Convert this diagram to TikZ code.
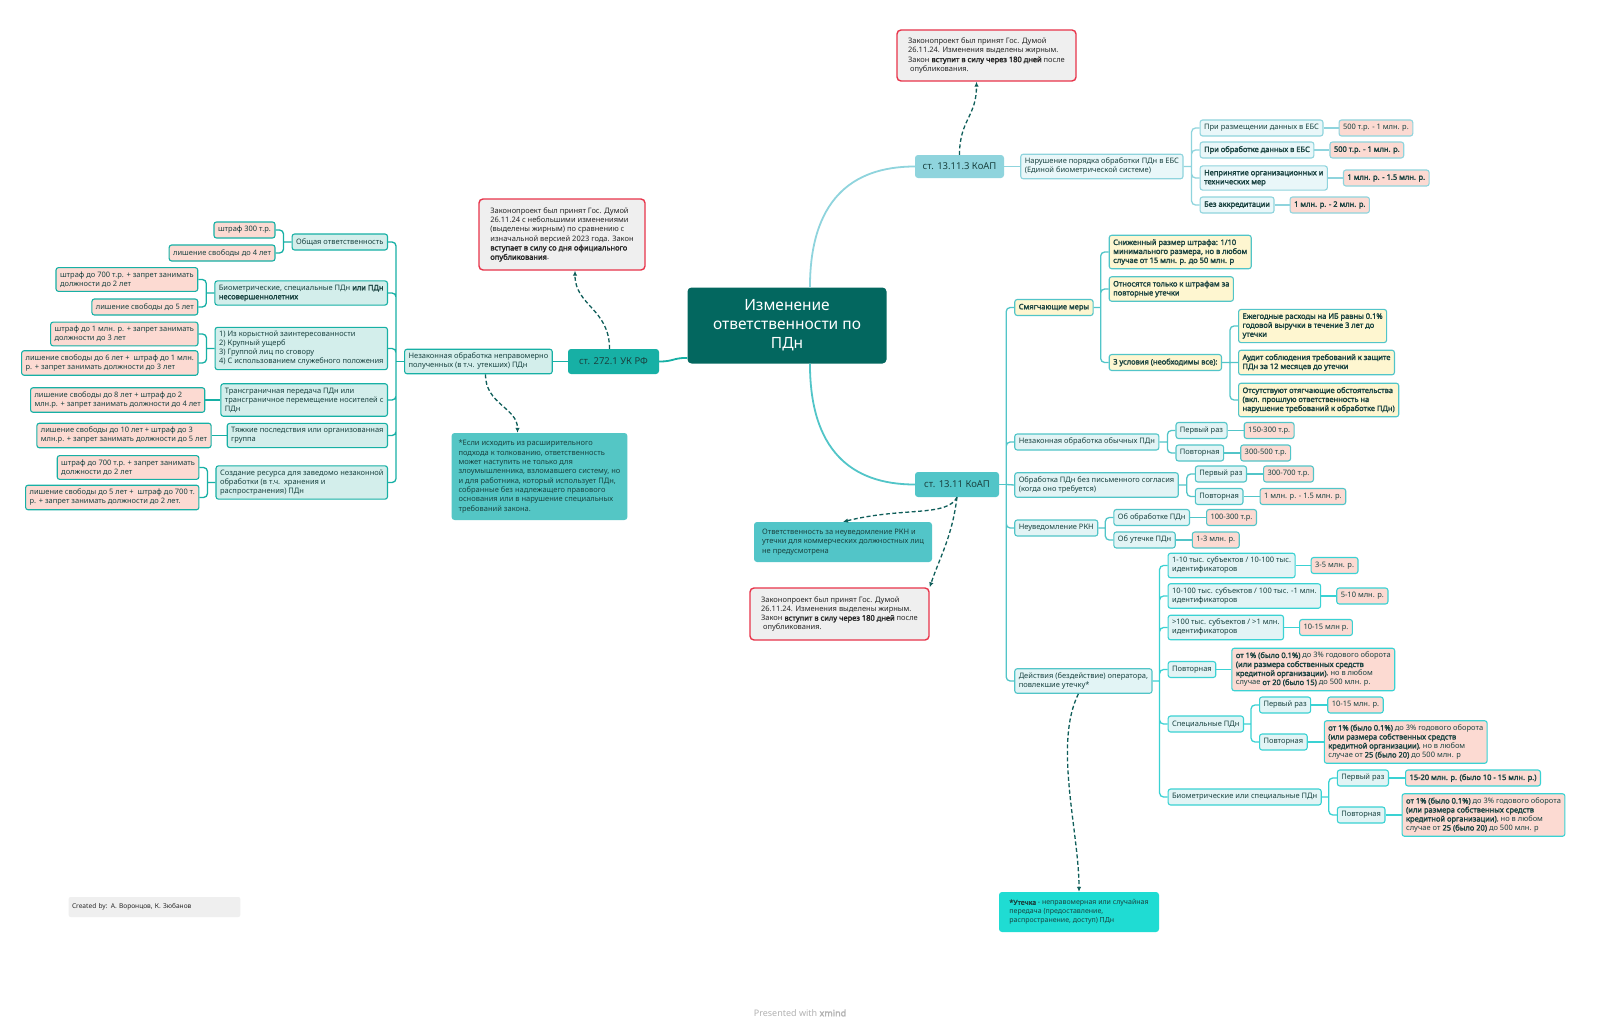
\documentclass[tikz,border=0pt]{standalone}
\usepackage{fontspec}
\setmainfont{Noto Sans}[BoldFont={Noto Sans}, BoldFeatures={FakeBold=2.2}]
\usepackage{xcolor}
\usepackage{tikz}
\usetikzlibrary{arrows.meta, positioning}

\definecolor{rootc}{HTML}{03675F}
\definecolor{ink}{HTML}{1A4341}
\definecolor{lline}{HTML}{17B0A5}
\definecolor{tline}{HTML}{8FD4DD}
\definecolor{rline}{HTML}{52C5C8}
\definecolor{sline}{HTML}{3AD2D3}
\definecolor{lfill}{HTML}{D3EEEB}
\definecolor{tfill}{HTML}{E9F7F9}
\definecolor{rfill}{HTML}{E2F4F5}
\definecolor{pinkf}{HTML}{FCDAD2}
\definecolor{yelf}{HTML}{FEF6D0}
\definecolor{memored}{HTML}{E8344A}
\definecolor{memof}{HTML}{EFEFEF}
\definecolor{hintc}{HTML}{54C6C5}
\definecolor{leakc}{HTML}{1FDCD3}
\definecolor{arc}{HTML}{0F5E5A}

\begin{document}
\begin{tikzpicture}[
  x=1pt, y=-1pt,
  font=\fontsize{7.5}{9}\selectfont,
  box/.style={rounded corners=2.5pt, line width=1.1pt, align=left, text=ink,
              inner xsep=4pt, inner ysep=4pt, minimum height=16pt},
  lt/.style={box, draw=lline, fill=lfill},
  lp/.style={box, draw=lline, fill=pinkf},
  tt/.style={box, draw=tline, fill=tfill},
  tp/.style={box, draw=tline, fill=pinkf},
  rt/.style={box, draw=rline, fill=rfill},
  rp/.style={box, draw=rline, fill=pinkf},
  ry/.style={box, draw=rline, fill=yelf},
  st/.style={box, draw=sline, fill=rfill},
  sp/.style={box, draw=sline, fill=pinkf},
  bb/.style={font=\fontsize{7.5}{9}\selectfont\bfseries},
  root/.style={fill=rootc, text=white, rounded corners=4pt, align=center,
               minimum width=199pt, minimum height=76pt,
               font=\fontsize{15.5}{19}\selectfont},
  art/.style={rounded corners=3pt, text=ink, inner sep=0pt,
              font=\fontsize{9.5}{11}\selectfont},
  memo/.style={draw=memored, fill=memof, line width=1.4pt, rounded corners=4pt,
               align=left, text=black!85, inner xsep=7pt, inner ysep=4pt,
               font=\fontsize{7.5}{9.3}\selectfont},
  hint/.style={rounded corners=3pt, align=left, text=ink, inner xsep=7pt,
               inner ysep=4pt, font=\fontsize{7.5}{9.3}\selectfont},
  br/.style={line width=1.3pt, rounded corners=4pt},
  ar/.style={draw=arc, line width=1.3pt, dash pattern=on 4pt off 2.5pt,
             -{Latex[length=5pt, width=4.5pt]}}
]
\fill[white] (0,0) rectangle (1600,1030);
\useasboundingbox (0,0) rectangle (1600,1030);

% root and articles
\node[root] (root) at (787,325.5) {Изменение\\ответственности по\\ПДн};
\node[art, fill=tline, minimum width=89pt, minimum height=23pt] (a1) at (959.5,166.5) {ст. 13.11.3 КоАП};
\node[art, fill=rline, minimum width=84pt, minimum height=25pt] (a2) at (957,484.5) {ст. 13.11 КоАП};
\node[art, fill=lline, minimum width=91pt, minimum height=25pt] (a3) at (613.5,361.5) {ст. 272.1 УК РФ};
\draw[line width=1.8pt, tline] (root.59) .. controls +(0,-85) and +(-65,0) .. (a1.west);
\draw[line width=1.8pt, rline] (root.-59) .. controls +(0,85) and +(-65,0) .. (a2.west);
\draw[line width=1.8pt, lline] (root.198) .. controls +(-15,0) and +(15,0) .. (a3.east);

% notes
\node[memo, minimum width=166pt, minimum height=71pt] (n1) at (562,234.5)
     {Законопроект был принят Гос. Думой\\26.11.24 с небольшими изменениями\\(выделены жирным) по сравнению с\\изначальной версией 2023 года. Закон\\\textbf{вступает в силу со дня официального}\\\textbf{опубликования}.};
\node[hint, fill=hintc, minimum width=175pt, minimum height=87pt] (n2) at (539.5,476.5)
     {*Если исходить из расширительного\\подхода к толкованию, ответственность\\может наступить не только для\\злоумышленника, взломавшего систему, но\\и для работника, который использует ПДн,\\собранные без надлежащего правового\\основания или в нарушение специальных\\требований закона.};
\node[memo, minimum width=179pt, minimum height=51pt] (n3) at (986.5,55.5)
     {Законопроект был принят Гос. Думой\\26.11.24. Изменения выделены жирным.\\Закон \textbf{вступит в силу через 180 дней} после\\\ опубликования.};
\node[hint, fill=rline, minimum width=178pt, minimum height=40pt] (n4) at (843,542)
     {Ответственность за неуведомление РКН и\\утечки для коммерческих должностных лиц\\не предусмотрена};
\node[memo, minimum width=179pt, minimum height=52pt] (n5) at (839.5,614)
     {Законопроект был принят Гос. Думой\\26.11.24. Изменения выделены жирным.\\Закон \textbf{вступит в силу через 180 дней} после\\\ опубликования.};
\node[hint, fill=leakc, minimum width=160pt, minimum height=40pt,
      font=\fontsize{7}{9}\selectfont] (n6) at (1079,912)
     {\textbf{*Утечка} - неправомерная или случайная\\передача (предоставление,\\распространение, доступ) ПДн};
\node[fill=memof, rounded corners=2pt, text width=165pt, minimum height=20pt,
      align=left, text=black!85, font=\fontsize{6.6}{8}\selectfont] (cred) at (154.5,907)
     {Created by: А. Воронцов, К. Зюбанов};
\node[text=black!30, font=\fontsize{9}{11}\selectfont] (pres) at (800,1013)
     {Presented with \textbf{xmind}};

% ст. 272.1 УК РФ
\node[lt, left=15pt of a3] (l0) {Незаконная обработка неправомерно\\полученных (в т.ч. утекших) ПДн};
\coordinate (s0) at ([xshift=-8pt]l0.west);
\node[lt, anchor=east, xshift=-8pt] (l1) at (s0 |- 0,242) {Общая ответственность};
\node[lt, anchor=east, xshift=-8pt] (l2) at (s0 |- 0,293)
     {Биометрические, специальные ПДн \textbf{или ПДн}\\\textbf{несовершеннолетних}};
\node[lt, anchor=east, xshift=-8pt] (l3) at (s0 |- 0,348.5)
     {1) Из корыстной заинтересованности\\2) Крупный ущерб\\3) Группой лиц по сговору\\4) С использованием служебного положения};
\node[lt, anchor=east, xshift=-8pt] (l4) at (s0 |- 0,400)
     {Трансграничная передача ПДн или\\трансграничное перемещение носителей с\\ПДн};
\node[lt, anchor=east, xshift=-8pt] (l5) at (s0 |- 0,435.5)
     {Тяжкие последствия или организованная\\группа};
\node[lt, anchor=east, xshift=-8pt] (l6) at (s0 |- 0,482.5)
     {Создание ресурса для заведомо незаконной\\обработки (в т.ч.\ \ хранения и\\распространения) ПДн};
\draw[br, lline] (a3.west) -- (l0.east);
\draw[br, lline] (l0.west) -- (s0);
\draw[br, lline] (s0) |- (l1.east) (s0) |- (l2.east) (s0) |- (l3.east)
                 (s0) |- (l4.east) (s0) |- (l5.east) (s0) |- (l6.east);

\coordinate (s1) at ([xshift=-8pt]l1.west);
\node[lp, anchor=east, xshift=-8pt] (l1a) at (s1 |- 0,230) {штраф 300 т.р.};
\node[lp, anchor=east, xshift=-8pt] (l1b) at (s1 |- 0,253) {лишение свободы до 4 лет};
\coordinate (s2) at ([xshift=-8pt]l2.west);
\node[lp, anchor=east, xshift=-8pt] (l2a) at (s2 |- 0,279.5) {штраф до 700 т.р. + запрет занимать\\должности до 2 лет};
\node[lp, anchor=east, xshift=-8pt] (l2b) at (s2 |- 0,307) {лишение свободы до 5 лет};
\coordinate (s3) at ([xshift=-8pt]l3.west);
\node[lp, anchor=east, xshift=-8pt] (l3a) at (s3 |- 0,334) {штраф до 1 млн. р. + запрет занимать\\должности до 3 лет};
\node[lp, anchor=east, xshift=-8pt] (l3b) at (s3 |- 0,363) {лишение свободы до 6 лет +\ \ штраф до 1 млн.\\р. + запрет занимать должности до 3 лет};
\node[lp, left=15pt of l4] (l4a) {лишение свободы до 8 лет + штраф до 2\\млн.р. + запрет занимать должности до 4 лет};
\node[lp, left=15pt of l5] (l5a) {лишение свободы до 10 лет + штраф до 3\\млн.р. + запрет занимать должности до 5 лет};
\coordinate (s6) at ([xshift=-8pt]l6.west);
\node[lp, anchor=east, xshift=-8pt] (l6a) at (s6 |- 0,467.5) {штраф до 700 т.р. + запрет занимать\\должности до 2 лет};
\node[lp, anchor=east, xshift=-8pt] (l6b) at (s6 |- 0,497.5) {лишение свободы до 5 лет +\ \ штраф до 700 т.\\р. + запрет занимать должности до 2 лет.};
\draw[br, lline] (l1.west) -- (s1) (s1) |- (l1a.east) (s1) |- (l1b.east);
\draw[br, lline] (l2.west) -- (s2) (s2) |- (l2a.east) (s2) |- (l2b.east);
\draw[br, lline] (l3.west) -- (s3) (s3) |- (l3a.east) (s3) |- (l3b.east);
\draw[br, lline] (l4.west) -- (l4a.east);
\draw[br, lline] (l5.west) -- (l5a.east);
\draw[br, lline] (l6.west) -- (s6) (s6) |- (l6a.east) (s6) |- (l6b.east);

% ст. 13.11.3 КоАП
\node[tt, right=16pt of a1] (t0) {Нарушение порядка обработки ПДн в ЕБС\\(Единой биометрической системе)};
\coordinate (u0) at ([xshift=8pt]t0.east);
\node[tt, anchor=west, xshift=8pt] (t1) at (u0 |- 0,128) {При размещении данных в ЕБС};
\node[tt, bb, anchor=west, xshift=8pt] (t2) at (u0 |- 0,150) {При обработке данных в ЕБС};
\node[tt, bb, anchor=west, xshift=8pt] (t3) at (u0 |- 0,178) {Непринятие организационных и\\технических мер};
\node[tt, bb, anchor=west, xshift=8pt] (t4) at (u0 |- 0,205) {Без аккредитации};
\node[tp, right=15pt of t1] (t1a) {500 т.р. - 1 млн. р.};
\node[tp, bb, right=15pt of t2] (t2a) {500 т.р. - 1 млн. р.};
\node[tp, bb, right=15pt of t3] (t3a) {1 млн. р. - 1.5 млн. р.};
\node[tp, bb, right=15pt of t4] (t4a) {1 млн. р. - 2 млн. р.};
\draw[br, tline] (a1.east) -- (t0.west);
\draw[br, tline] (t0.east) -- (u0) (u0) |- (t1.west) (u0) |- (t2.west)
                 (u0) |- (t3.west) (u0) |- (t4.west);
\draw[br, tline] (t1) -- (t1a) (t2) -- (t2a) (t3) -- (t3a) (t4) -- (t4a);

% ст. 13.11 КоАП
\coordinate (q0) at ([xshift=7pt]a2.east);
\node[ry, bb, anchor=west, xshift=8pt] (r1) at (q0 |- 0,307.5) {Смягчающие меры};
\node[rt, anchor=west, xshift=8pt] (r2) at (q0 |- 0,442) {Незаконная обработка обычных ПДн};
\node[rt, anchor=west, xshift=8pt] (r3) at (q0 |- 0,485) {Обработка ПДн без письменного согласия\\(когда оно требуется)};
\node[rt, anchor=west, xshift=8pt] (r4) at (q0 |- 0,528) {Неуведомление РКН};
\node[rt, anchor=west, xshift=8pt] (r5) at (q0 |- 0,681) {Действия (бездействие) оператора,\\повлекшие утечку*};
\draw[br, rline] (a2.east) -- (q0);
\draw[br, rline] (q0) |- (r1.west) (q0) |- (r2.west) (q0) -- (r3.west)
                 (q0) |- (r4.west) (q0) |- (r5.west);

\coordinate (q1) at ([xshift=7pt]r1.east);
\node[ry, bb, anchor=west, xshift=8pt] (r1a) at (q1 |- 0,252) {Сниженный размер штрафа: 1/10\\минимального размера, но в любом\\случае от 15 млн. р. до 50 млн. р};
\node[ry, bb, anchor=west, xshift=8pt] (r1b) at (q1 |- 0,289) {Относятся только к штрафам за\\повторные утечки};
\node[ry, bb, anchor=west, xshift=8pt] (r1c) at (q1 |- 0,362.5) {3 условия (необходимы все):};
\coordinate (q2) at ([xshift=8pt]r1c.east);
\node[ry, bb, anchor=west, xshift=8pt] (r1c1) at (q2 |- 0,326) {Ежегодные расходы на ИБ равны 0.1\%\\годовой выручки в течение 3 лет до\\утечки};
\node[ry, bb, anchor=west, xshift=8pt] (r1c2) at (q2 |- 0,362.5) {Аудит соблюдения требований к защите\\ПДн за 12 месяцев до утечки};
\node[ry, bb, anchor=west, xshift=8pt] (r1c3) at (q2 |- 0,400) {Отсутствуют отягчающие обстоятельства\\(вкл. прошлую ответственность на\\нарушение требований к обработке ПДн)};
\draw[br, rline] (r1.east) -- (q1) (q1) |- (r1a.west) (q1) |- (r1b.west) (q1) |- (r1c.west);
\draw[br, rline] (r1c.east) -- (q2) (q2) |- (r1c1.west) (q2) |- (r1c3.west) (q2) -- (r1c2.west);

\coordinate (q3) at ([xshift=8pt]r2.east);
\node[rt, anchor=west, xshift=8pt] (r2a) at (q3 |- 0,430.5) {Первый раз};
\node[rt, anchor=west, xshift=8pt] (r2b) at (q3 |- 0,453) {Повторная};
\node[rp, right=16pt of r2a] (r2a1) {150-300 т.р.};
\node[rp, right=16pt of r2b] (r2b1) {300-500 т.р.};
\coordinate (q4) at ([xshift=8pt]r3.east);
\node[rt, anchor=west, xshift=8pt] (r3a) at (q4 |- 0,474) {Первый раз};
\node[rt, anchor=west, xshift=8pt] (r3b) at (q4 |- 0,496.5) {Повторная};
\node[rp, right=16pt of r3a] (r3a1) {300-700 т.р.};
\node[rp, right=16pt of r3b] (r3b1) {1 млн. р. - 1.5 млн. р.};
\coordinate (q5) at ([xshift=7pt]r4.east);
\node[rt, anchor=west, xshift=8pt] (r4a) at (q5 |- 0,517.5) {Об обработке ПДн};
\node[rt, anchor=west, xshift=8pt] (r4b) at (q5 |- 0,540) {Об утечке ПДн};
\node[rp, right=16pt of r4a] (r4a1) {100-300 т.р.};
\node[rp, right=16pt of r4b] (r4b1) {1-3 млн. р.};
\draw[br, rline] (r2.east) -- (q3) (q3) |- (r2a.west) (q3) |- (r2b.west);
\draw[br, rline] (r3.east) -- (q4) (q4) |- (r3a.west) (q4) |- (r3b.west);
\draw[br, rline] (r4.east) -- (q5) (q5) |- (r4a.west) (q5) |- (r4b.west);
\draw[br, rline] (r2a) -- (r2a1) (r2b) -- (r2b1) (r3a) -- (r3a1) (r3b) -- (r3b1)
                 (r4a) -- (r4a1) (r4b) -- (r4b1);

\coordinate (q6) at ([xshift=7pt]r5.east);
\node[st, anchor=west, xshift=8pt] (r5a) at (q6 |- 0,565.5) {1-10 тыс. субъектов / 10-100 тыс.\\идентификаторов};
\node[st, anchor=west, xshift=8pt] (r5b) at (q6 |- 0,596) {10-100 тыс. субъектов / 100 тыс. -1 млн.\\идентификаторов};
\node[st, anchor=west, xshift=8pt] (r5c) at (q6 |- 0,627.5) {>100 тыс. субъектов / >1 млн.\\идентификаторов};
\node[st, anchor=west, xshift=8pt] (r5d) at (q6 |- 0,669.5) {Повторная};
\node[st, anchor=west, xshift=8pt] (r5e) at (q6 |- 0,724) {Специальные ПДн};
\node[st, anchor=west, xshift=8pt] (r5f) at (q6 |- 0,797) {Биометрические или специальные ПДн};
\node[sp, right=15pt of r5a] (r5a1) {3-5 млн. р.};
\node[sp, right=15pt of r5b] (r5b1) {5-10 млн. р.};
\node[sp, right=15pt of r5c] (r5c1) {10-15 млн р.};
\node[sp, right=15pt of r5d] (r5d1) {\textbf{от 1\% (было 0.1\%)} до 3\% годового оборота\\\textbf{(или размера собственных средств}\\\textbf{кредитной организации)}, но в любом\\случае \textbf{от 20 (было 15)} до 500 млн. р.};
\coordinate (q7) at ([xshift=7pt]r5e.east);
\node[st, anchor=west, xshift=8pt] (r5e1) at (q7 |- 0,705) {Первый раз};
\node[st, anchor=west, xshift=8pt] (r5e2) at (q7 |- 0,742) {Повторная};
\node[sp, right=16pt of r5e1] (r5e1a) {10-15 млн. р.};
\node[sp, right=16pt of r5e2] (r5e2a) {\textbf{от 1\% (было 0.1\%)} до 3\% годового оборота\\\textbf{(или размера собственных средств}\\\textbf{кредитной организации)}, но в любом\\случае от \textbf{25 (было 20)} до 500 млн. р};
\coordinate (q8) at ([xshift=7pt]r5f.east);
\node[st, anchor=west, xshift=8pt] (r5f1) at (q8 |- 0,778) {Первый раз};
\node[st, anchor=west, xshift=8pt] (r5f2) at (q8 |- 0,815) {Повторная};
\node[sp, bb, right=16pt of r5f1] (r5f1a) {15-20 млн. р. (было 10 - 15 млн. р.)};
\node[sp, right=16pt of r5f2] (r5f2a) {\textbf{от 1\% (было 0.1\%)} до 3\% годового оборота\\\textbf{(или размера собственных средств}\\\textbf{кредитной организации)}, но в любом\\случае от \textbf{25 (было 20)} до 500 млн. р};
\draw[br, sline] (r5.east) -- (q6) (q6) |- (r5a.west) (q6) |- (r5b.west) (q6) |- (r5c.west)
                 (q6) |- (r5d.west) (q6) |- (r5e.west) (q6) |- (r5f.west);
\draw[br, sline] (r5a) -- (r5a1) (r5b) -- (r5b1) (r5c) -- (r5c1) (r5d) -- (r5d1);
\draw[br, sline] (r5e.east) -- (q7) (q7) |- (r5e1.west) (q7) |- (r5e2.west);
\draw[br, sline] (r5f.east) -- (q8) (q8) |- (r5f1.west) (q8) |- (r5f2.west);
\draw[br, sline] (r5e1) -- (r5e1a) (r5e2) -- (r5e2a) (r5f1) -- (r5f1a) (r5f2) -- (r5f2a);

% dashed links to notes
\draw[ar] ([xshift=-4pt]a3.north) .. controls +(0,-40) and +(0,35) .. ([xshift=13pt]n1.south);
\draw[ar] ([xshift=7pt]l0.south) .. controls +(0,30) and +(0,-25) .. ([xshift=-22pt]n2.north);
\draw[ar] (a1.north) .. controls +(0,-35) and +(0,35) .. ([xshift=-10pt]n3.south);
\draw[ar] (a2.south) .. controls +(-10,20) and +(60,-15) .. (n4.north);
\draw[ar] (a2.south) .. controls +(-5,40) and +(10,-30) .. (n5.north east);
\draw[ar] ([xshift=-5pt]r5.south) .. controls +(-25,50) and +(0,-60) .. (n6.north);
\end{tikzpicture}
\end{document}
